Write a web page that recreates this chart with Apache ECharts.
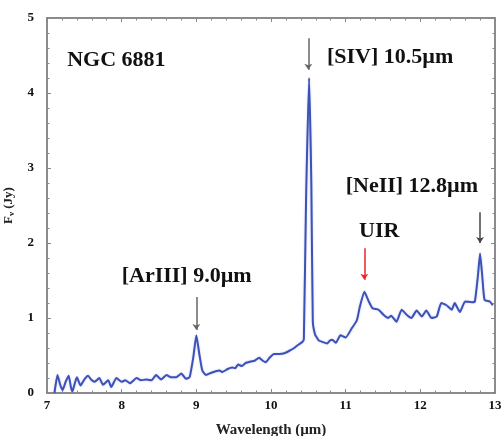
<!DOCTYPE html>
<html><head><meta charset="utf-8">
<script src="https://cdn.jsdelivr.net/npm/echarts@6/dist/echarts.min.js"></script>
<style>html,body{margin:0;padding:0;background:#fff}#c{width:504px;height:436px}</style>
</head><body><div id="c"></div>
<script>
var wavelength = [7.10,7.14,7.18,7.21,7.25,7.29,7.32,7.34,7.37,7.40,7.45,7.50,7.55,7.59,7.64,7.70,7.75,7.82,7.86,7.93,8.00,8.05,8.11,8.20,8.26,8.33,8.40,8.46,8.53,8.60,8.66,8.73,8.80,8.86,8.91,8.96,9.00,9.04,9.08,9.13,9.20,9.26,9.31,9.35,9.42,9.48,9.52,9.56,9.61,9.66,9.73,9.78,9.84,9.89,9.93,9.98,10.04,10.11,10.18,10.24,10.31,10.36,10.42,10.44,10.47,10.51,10.54,10.56,10.59,10.62,10.64,10.69,10.75,10.79,10.82,10.87,10.93,11.00,11.08,11.15,11.19,11.25,11.31,11.36,11.44,11.51,11.57,11.61,11.68,11.75,11.82,11.88,11.95,12.02,12.08,12.15,12.22,12.28,12.35,12.42,12.46,12.53,12.60,12.69,12.73,12.77,12.80,12.83,12.86,12.93,12.97];
var flux = [0.00,0.24,0.10,0.04,0.15,0.23,0.08,0.02,0.12,0.21,0.10,0.18,0.23,0.18,0.15,0.20,0.11,0.17,0.08,0.20,0.15,0.17,0.13,0.20,0.17,0.18,0.17,0.24,0.18,0.24,0.21,0.21,0.26,0.19,0.21,0.48,0.77,0.52,0.30,0.24,0.27,0.29,0.30,0.28,0.32,0.34,0.33,0.38,0.36,0.40,0.42,0.43,0.47,0.43,0.41,0.47,0.52,0.52,0.53,0.56,0.60,0.64,0.68,0.72,2.60,4.20,2.80,0.95,0.78,0.73,0.70,0.68,0.66,0.70,0.71,0.67,0.77,0.74,0.86,0.97,1.15,1.35,1.22,1.13,1.11,1.04,1.00,1.03,0.95,1.11,1.04,1.00,1.10,1.02,1.10,1.00,1.02,1.20,1.17,1.11,1.20,1.08,1.22,1.21,1.22,1.55,1.86,1.55,1.24,1.22,1.17];
var xTicks = [7,8,9,10,11,12,13];
var yTicks = [0,1,2,3,4,5];
var labelTexts = ['NGC 6881','[SIV] 10.5\u00b5m','[NeII] 12.8\u00b5m','UIR','[ArIII] 9.0\u00b5m'];
var labelX = [7.27,10.75,11.0,11.18,8.0];
var labelY = [4.43,4.48,2.75,2.16,1.55];
var arrowX = [10.5,9.0,11.25,12.8];
var arrowFrom = [4.73,1.28,1.93,2.41];
var arrowTo = [4.31,0.84,1.51,2.00];
var arrowColor = ['#666','#666','#e8262a','#444'];

var serif = 'Liberation Serif';
var chart = echarts.init(document.getElementById('c'));
var pts = wavelength.map(function(w,i){return [w, flux[i]];});
var axisLine = {show:true, onZero:false, lineStyle:{color:'#666', width:1.5}};
function xAx(pos, show){
  return {type:'value', position:pos, min:7, max:13, interval:1,
    axisLine:axisLine, axisTick:{show:true, inside:true, length:4, lineStyle:{color:'#888'}},
    minorTick:{show:true, splitNumber:5, length:2.5, lineStyle:{color:'#888'}},
    axisLabel:{show:show, color:'#111', fontFamily:serif, fontWeight:'bold', fontSize:13, margin:6},
    splitLine:{show:false},
    name: show ? 'Wavelength (\u00b5m)' : '', nameLocation:'middle', nameGap:30,
    nameTextStyle:{color:'#222', fontFamily:serif, fontWeight:'bold', fontSize:15}};
}
function yAx(pos, show){
  return {type:'value', position:pos, min:0, max:5, interval:1,
    axisLine:axisLine, axisTick:{show:true, inside:true, length:4, lineStyle:{color:'#888'}},
    minorTick:{show:true, splitNumber:5, length:2.5, lineStyle:{color:'#888'}},
    axisLabel:{show:show, color:'#111', fontFamily:serif, fontWeight:'bold', fontSize:13, margin:13},
    splitLine:{show:false},
    name: show ? 'F{s|\u03bd} (Jy)' : '', nameLocation:'middle', nameGap:28, nameRotate:90,
    nameTextStyle:{color:'#222', fontFamily:serif, fontWeight:'bold', fontSize:13,
      rich:{s:{fontFamily:serif, fontSize:9, fontWeight:'bold', verticalAlign:'bottom', padding:[6,0,0,0]}}}};
}
var markData = arrowX.map(function(x,i){
  return [{coord:[x, arrowFrom[i]], lineStyle:{color:arrowColor[i]}, itemStyle:{color:arrowColor[i]}},
          {coord:[x, arrowTo[i]]}];
});
chart.setOption({
  animation:false,
  grid:{left:47, right:9, top:18, bottom:43, outerBoundsMode:'none', containLabel:false},
  xAxis:[xAx('bottom', true), xAx('top', false)],
  yAxis:[yAx('left', true), yAx('right', false)],
  series:[{
    type:'line', data:pts, showSymbol:false, smooth:0.15,
    lineStyle:{color:'#3d52b8', width:2, shadowColor:'rgba(80,100,200,0.35)', shadowBlur:2},
    markLine:{silent:true, symbol:['none','arrow'], symbolSize:[6,6], label:{show:false},
      lineStyle:{type:'solid', width:1.5}, data:markData}
  }]
});
var g = labelTexts.map(function(t,i){
  var p = chart.convertToPixel({gridIndex:0}, [labelX[i], labelY[i]]);
  return {type:'text', x:p[0], y:p[1], style:{text:t, fill:'#111', font:'bold 22px "Liberation Serif"', textVerticalAlign:'middle', textAlign:'left'}};
});
chart.setOption({graphic:g});
</script></body></html>
